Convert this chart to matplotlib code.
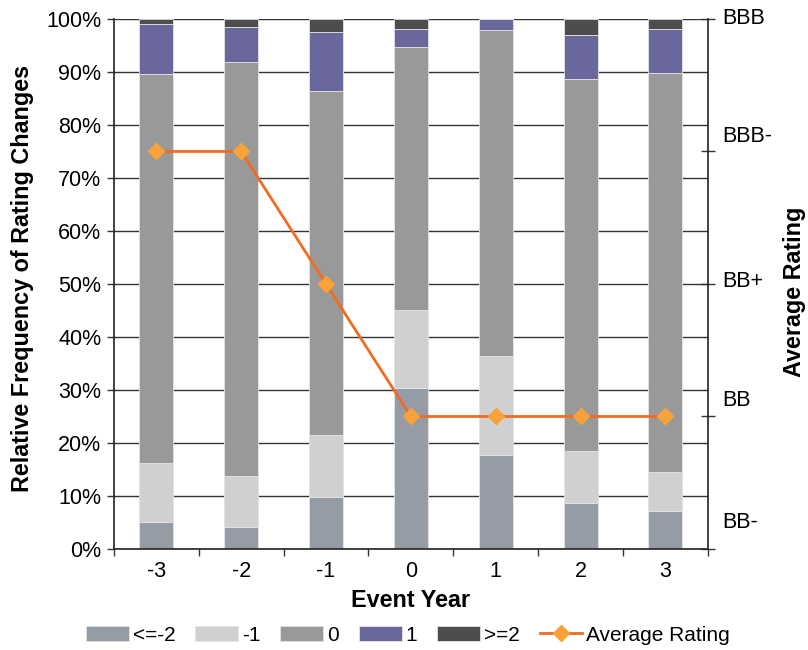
import numpy as np
import matplotlib.pyplot as plt
from matplotlib.ticker import FuncFormatter

plt.rcParams['font.family'] = ['Liberation Sans', 'DejaVu Sans']

# event years and share of rating changes (%) per class
years = [-3, -2, -1, 0, 1, 2, 3]
down2 = [5.0, 4.2, 9.8, 30.4, 17.7, 8.7, 7.2]      # <=-2
down1 = [11.3, 9.6, 11.7, 14.6, 18.7, 9.8, 7.3]    # -1
nochg = [73.3, 78.1, 64.9, 49.7, 61.6, 70.2, 75.4] # 0
up1 = [9.4, 6.5, 11.1, 3.5, 2.0, 8.3, 8.2]         # 1
up2 = [1.0, 1.6, 2.5, 1.8, 0.0, 3.0, 1.9]          # >=2

# average rating on the right scale (0 = BB- ... 4 = BBB)
rating_names = ['BB-', 'BB', 'BB+', 'BBB-', 'BBB']
avg_rating = [3, 3, 2, 1, 1, 1, 1]

series = [down2, down1, nochg, up1, up2]
names = ['<=-2', '-1', '0', '1', '>=2']
colors = ['#959ca6', '#d0d0d0', '#999999', '#69679b', '#4d4d4b']

fig = plt.figure(figsize=(8.08, 6.5), dpi=100)
ax = fig.add_axes([0.141, 0.1554, 0.735, 0.8154])

x = np.arange(len(years))
bottom = np.zeros(len(years))
handles = []
for vals, nm, c in zip(series, names, colors):
    b = ax.bar(x, vals, 0.4, bottom=bottom, color=c, edgecolor='#e4e4e4',
               linewidth=0.6, label=nm, zorder=2)
    handles.append(b)
    bottom += np.array(vals)

ax.set_xlim(-0.5, len(years) - 0.5)
ax.set_ylim(0, 100)
ax.set_yticks(np.arange(0, 101, 10))
ax.yaxis.set_major_formatter(FuncFormatter(lambda v, p: f'{v:.0f}%'))
ax.yaxis.grid(True, color='#333333', linewidth=1.0, zorder=0)
ax.set_axisbelow(True)
ax.set_xticks(x)
ax.set_xticklabels([str(y) for y in years])
ax.set_xticks(np.arange(-0.5, len(years), 1), minor=True)
ax.tick_params(axis='x', which='major', length=0, labelsize=15.5, pad=9)
ax.tick_params(axis='x', which='minor', length=5, width=1, color='#333333')
ax.tick_params(axis='y', length=5, width=1, color='#333333', labelsize=15.5, pad=4)
for s in ['left', 'bottom']:
    ax.spines[s].set_color('#222222')
    ax.spines[s].set_linewidth(1.2)
ax.spines['top'].set_visible(False)
ax.spines['right'].set_visible(False)

ax.set_xlabel('Event Year', fontsize=16.8, fontweight='bold', labelpad=5)
ax.set_ylabel('Relative Frequency of Rating Changes', fontsize=16.8,
              fontweight='bold')
ax.yaxis.set_label_coords(-0.135, 0.511)

ax2 = ax.twinx()
ax2.set_ylim(0, 4)
line, = ax2.plot(x, avg_rating, color='#f26b21', linewidth=2, marker='D',
                 markersize=8, markerfacecolor='#f9a23a',
                 markeredgecolor='#f9a23a', label='Average Rating', zorder=3)
ax2.set_yticks(range(len(rating_names)))
ax2.set_yticklabels([])
ax2.tick_params(axis='y', direction='inout', length=10, width=1, color='#333333')
# rating labels sit a little above their ticks
label_pos = [0.2, 1.12, 2.02, 3.11, 4.0]
for pos, nm in zip(label_pos, rating_names):
    ax2.text(1.025, pos / 4, nm, transform=ax2.transAxes, fontsize=15.5,
             va='center', ha='left')
ax2.spines['right'].set_color('#222222')
ax2.spines['right'].set_linewidth(1.2)
ax2.spines['top'].set_visible(False)
ax2.spines['left'].set_visible(False)
ax2.spines['bottom'].set_visible(False)
fig.text(0.983, 0.551, 'Average Rating', rotation=90, fontsize=16.8,
         fontweight='bold', va='center', ha='center')

fig.legend(handles + [line], names + ['Average Rating'], loc='center',
           bbox_to_anchor=(0.505, 0.023), ncol=6, frameon=False, fontsize=15,
           handlelength=2.05, handletextpad=0.2, columnspacing=0.95)

fig.savefig('out.png', dpi=100)
